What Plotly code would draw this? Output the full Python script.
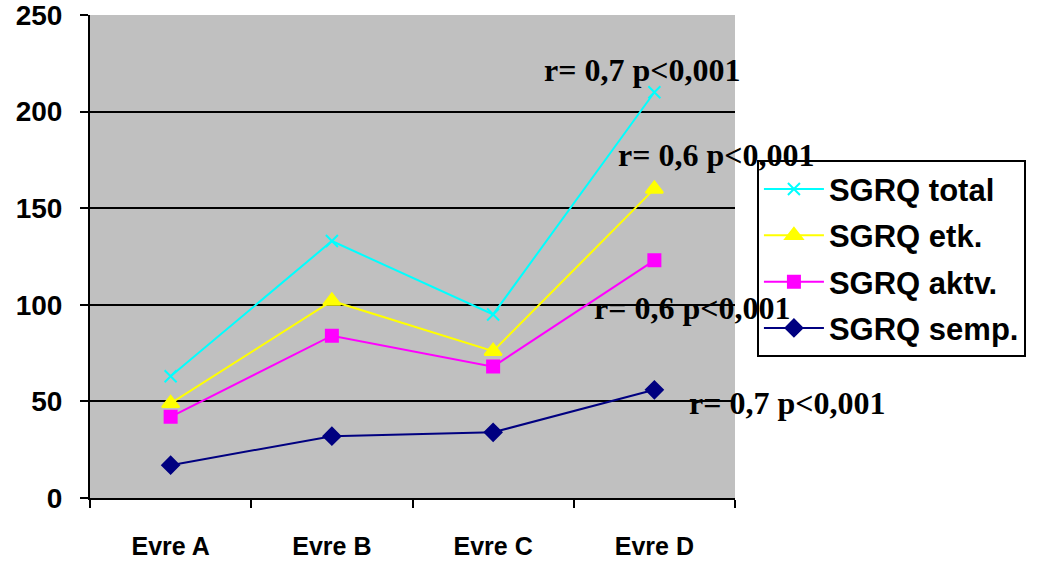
import plotly.graph_objects as go

categories = ["Evre A", "Evre B", "Evre C", "Evre D"]
sgrq_total = [63, 133, 95, 210]
sgrq_etk = [49, 102, 76, 160]
sgrq_aktv = [42, 84, 68, 123]
sgrq_semp = [17, 32, 34, 56]

series_names = ["SGRQ total", "SGRQ etk.", "SGRQ aktv.", "SGRQ semp."]
annot_texts = ["r= 0,7 p<0,001", "r= 0,6 p<0,001", "r= 0,6 p<0,001", "r= 0,7 p<0,001"]

fig = go.Figure()
styles = [
    (sgrq_total, "#00FFFF", "x-thin", 12),
    (sgrq_etk, "#FFFF00", "triangle-up", 15),
    (sgrq_aktv, "#FF00FF", "square", 12),
    (sgrq_semp, "#000080", "diamond", 13),
]
for i, (vals, col, sym, sz) in enumerate(styles):
    fig.add_trace(go.Scatter(
        x=categories, y=vals, name=series_names[i], mode="lines+markers",
        line=dict(color=col, width=2),
        marker=dict(color=col, symbol=sym, size=sz, line=dict(color=col, width=2)),
        legendgroup=f"g{i}",
        cliponaxis=False,
    ))

annot_pos = [(0.856, 0.886), (0.970, 0.710), (0.933, 0.393), (1.081, 0.196)]
for (ax_, ay_), t in zip(annot_pos, annot_texts):
    fig.add_annotation(x=ax_, y=ay_, xref="paper", yref="paper", text=t, showarrow=False,
                       font=dict(family="Liberation Serif", size=32, color="black", weight="bold"),
                       xanchor="center", yanchor="middle")

fig.update_layout(
    width=1037, height=569,
    margin=dict(l=90, r=302, t=15, b=71, autoexpand=False),
    paper_bgcolor="white",
    plot_bgcolor="#C0C0C0",
    showlegend=True,
    legend=dict(
        x=1.034, y=0.699, xanchor="left", yanchor="top",
        bgcolor="white", bordercolor="black", borderwidth=2,
        font=dict(family="Liberation Sans", size=31, color="black", weight="bold"),
        tracegroupgap=3, traceorder="grouped",
        itemwidth=60,
    ),
    font=dict(family="Liberation Sans", color="black"),
)
fig.update_xaxes(
    type="category", range=[-0.5, 3.5], automargin=False,
    showline=True, linecolor="black", linewidth=2,
    ticks="outside", tickson="boundaries", ticklen=8, tickwidth=2, tickcolor="black",
    showgrid=False,
    tickfont=dict(family="Liberation Sans", size=25, color="black", weight="bold"),
    ticklabelstandoff=25,
)
fig.update_yaxes(
    range=[0, 250], dtick=50, automargin=False,
    showline=True, linecolor="black", linewidth=2,
    ticks="outside", ticklen=8, tickwidth=2, tickcolor="black",
    showgrid=True, gridcolor="black", gridwidth=2,
    zeroline=False,
    tickfont=dict(family="Liberation Sans", size=28, color="black", weight="bold"),
    ticklabelstandoff=12,
    ticklabeloverflow="allow",
)
fig.write_html("out.html", config={"displayModeBar": False},
               post_script="document.body.style.margin='0';document.body.style.overflow='hidden';")
